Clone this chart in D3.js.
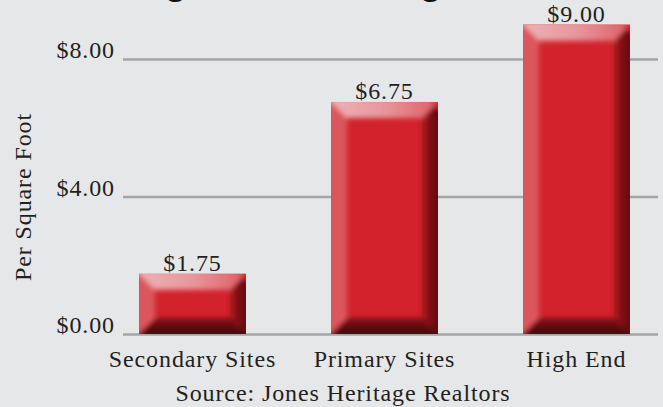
<!DOCTYPE html>
<html>
<head>
<meta charset="utf-8">
<script src="https://cdn.jsdelivr.net/npm/d3@7/dist/d3.min.js"></script>
<style>
  html, body { margin: 0; padding: 0; background: #e6e7e9; }
  svg { display: block; }
  .serif { font-family: "Liberation Serif", "Times New Roman", serif; fill: #231f20; letter-spacing: 0.9px; }
</style>
</head>
<body>
<svg id="chart" width="663" height="407"></svg>
<script>
var categories = ["Secondary Sites", "Primary Sites", "High End"];
var values = [1.75, 6.75, 9.00];
var yTicks = [0, 4, 8];
var titleText = "Average Land Pricing";
var yTitle = "Per Square Foot";
var sourceText = "Source: Jones Heritage Realtors";

var svg = d3.select("#chart"),
    width = +svg.attr("width"),
    height = +svg.attr("height");

svg.append("rect")
    .attr("width", width)
    .attr("height", height)
    .attr("fill", "#e6e7e9");

var x = d3.scaleBand()
    .domain(categories)
    .range([123, 646])
    .paddingInner(0.443)
    .paddingOuter(0.0835);

var y = d3.scaleLinear()
    .domain([0, 8])
    .range([334, 59]);

var fmt = function(d) { return "$" + d3.format(".2f")(d); };

// title, almost all of it sits above the frame
svg.append("text")
    .attr("x", 63)
    .attr("y", -6)
    .attr("font-family", "Liberation Sans, Arial, sans-serif")
    .attr("font-weight", "bold")
    .attr("font-size", 37)
    .attr("fill", "#111")
    .text(titleText);

// gridlines + tick labels
var yAxis = svg.append("g")
    .attr("transform", "translate(123,0)")
    .call(d3.axisLeft(y)
        .tickValues(yTicks)
        .tickSizeInner(-(658 - 123))
        .tickSizeOuter(0)
        .tickPadding(8)
        .tickFormat(fmt));

yAxis.select(".domain").remove();
yAxis.selectAll(".tick line")
    .attr("stroke", "#a4a5a7")
    .attr("stroke-width", 2.5);
yAxis.selectAll(".tick text")
    .attr("class", "serif")
    .attr("font-size", 24)
    .attr("dy", "-0.05em")
    .attr("fill", "#231f20");

// gradients for the bevelled bars
var defs = svg.append("defs");

function linGrad(id, x1, y1, x2, y2, stops) {
  var g = defs.append("linearGradient")
      .attr("id", id)
      .attr("x1", x1).attr("y1", y1).attr("x2", x2).attr("y2", y2);
  stops.forEach(function(s) {
    g.append("stop").attr("offset", s[0]).attr("stop-color", s[1]);
  });
}

linGrad("gTop", 0, 0, 1, 0, [[0, "#efb4b7"], [0.5, "#e7979c"], [1, "#dd5a61"]]);
linGrad("gRight", 0, 0, 1, 0, [[0, "#a8161e"], [1, "#4a070b"]]);
linGrad("gBottom", 0, 0, 0, 1, [[0, "#8c1017"], [0.6, "#4d080c"], [1, "#40060a"]]);

defs.append("filter")
    .attr("id", "soft")
    .attr("x", "-20%").attr("y", "-20%").attr("width", "140%").attr("height", "140%")
  .append("feGaussianBlur")
    .attr("stdDeviation", 2.6);

var bars = svg.append("g")
  .selectAll("g")
  .data(values)
  .enter().append("g");

bars.each(function(d, i) {
  var g = d3.select(this),
      bx = x(categories[i]),
      bw = x.bandwidth(),
      by = y(d),
      bh = y(0) - y(d),
      b = 16;

  g.append("clipPath")
      .attr("id", "clip" + i)
    .append("rect")
      .attr("x", bx).attr("y", by).attr("width", bw).attr("height", bh);

  g.append("rect")
      .attr("x", bx).attr("y", by).attr("width", bw).attr("height", bh)
      .attr("fill", "#d2232c");

  var bev = g.append("g")
      .attr("clip-path", "url(#clip" + i + ")")
    .append("g")
      .attr("filter", "url(#soft)");

  var L = bx, R = bx + bw, T = by, B = by + bh;

  // left face
  bev.append("polygon")
      .attr("points", [[L - 4, T - 4], [L + b, T + b], [L + b, B - b], [L - 4, B + 4]].join(" "))
      .attr("fill", "#dc565d");
  // right face
  bev.append("polygon")
      .attr("points", [[R + 4, T - 4], [R + 4, B + 4], [R - b, B - b], [R - b, T + b]].join(" "))
      .attr("fill", "url(#gRight)");
  // bottom face
  bev.append("polygon")
      .attr("points", [[L - 4, B + 4], [R + 4, B + 4], [R - b, B - b], [L + b, B - b]].join(" "))
      .attr("fill", "url(#gBottom)");
  // top face
  bev.append("polygon")
      .attr("points", [[L - 4, T - 4], [R + 4, T - 4], [R - b, T + b], [L + b, T + b]].join(" "))
      .attr("fill", "url(#gTop)");
  // bright corner at top right
  bev.append("polygon")
      .attr("points", [[R - 8, T - 2], [R + 4, T - 2], [R + 4, T + 10]].join(" "))
      .attr("fill", "#e2202c");

  g.append("text")
      .attr("class", "serif")
      .attr("x", bx + bw / 2)
      .attr("y", by - 3)
      .attr("text-anchor", "middle")
      .attr("font-size", 24)
      .text(fmt(d));
});

// category labels
svg.append("g")
  .selectAll("text")
  .data(categories)
  .enter().append("text")
    .attr("class", "serif")
    .attr("x", function(d) { return x(d) + x.bandwidth() / 2; })
    .attr("y", 367)
    .attr("text-anchor", "middle")
    .attr("font-size", 24)
    .text(function(d) { return d; });

// axis title
svg.append("text")
    .attr("class", "serif")
    .attr("transform", "translate(31,197) rotate(-90)")
    .attr("text-anchor", "middle")
    .attr("font-size", 24)
    .text(yTitle);

// source line
svg.append("text")
    .attr("class", "serif")
    .attr("x", 343)
    .attr("y", 401)
    .attr("text-anchor", "middle")
    .attr("font-size", 24)
    .text(sourceText);
</script>
</body>
</html>
